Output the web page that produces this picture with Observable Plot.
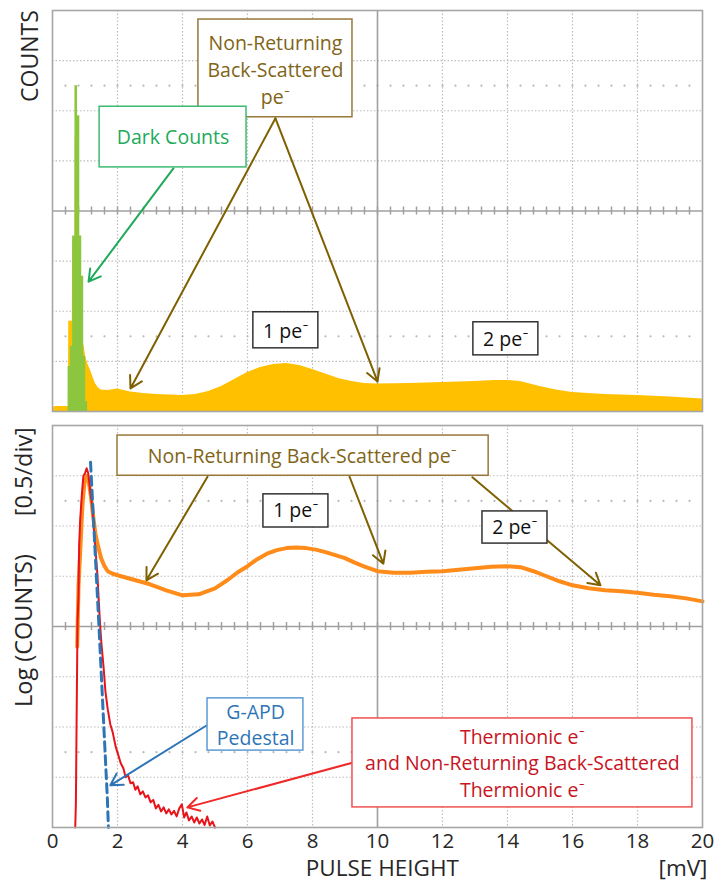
<!DOCTYPE html>
<html><head><meta charset="utf-8">
<script src="https://cdn.jsdelivr.net/npm/d3@7"></script>
<script src="https://cdn.jsdelivr.net/npm/@observablehq/plot@0.6"></script>
<style>
body{margin:0;background:#fff;}
#chart svg{display:block;overflow:visible;}
</style>
</head><body><div id="chart"></div>
<script>
// ---------- data ----------
// x in mV, y in screen divisions (8 divisions per panel)
const xTicks = [0,2,4,6,8,10,12,14,16,18,20];

// top panel: total spectrum (yellow) and dark counts (green)
const yellowX = [0.0,0.1,0.49,0.50,0.61,0.62,0.69,0.70,0.84,0.86,0.90,0.96,1.02,1.08,1.17,1.25,1.32,1.4,1.5,1.7,2.0,2.4,2.8,3.2,3.6,4.0,4.4,4.8,5.2,5.6,6.0,6.4,6.8,7.2,7.6,8.0,8.4,8.8,9.2,9.6,10.0,11.0,12.0,13.0,13.6,14.0,14.4,15.0,15.5,16.0,17.0,18.0,19.0,20.0];
const yellowY = [0.08,0.1,0.1,1.8,1.8,3.4,3.4,5.5,3.4,2.6,1.5,1.35,1.1,0.96,0.82,0.68,0.56,0.48,0.43,0.42,0.45,0.39,0.36,0.34,0.33,0.32,0.34,0.4,0.5,0.64,0.78,0.88,0.94,0.96,0.92,0.84,0.75,0.66,0.6,0.56,0.55,0.56,0.58,0.6,0.62,0.62,0.6,0.5,0.43,0.38,0.34,0.32,0.29,0.25];

const greenX = [0.46,0.48,0.55,0.62,0.69,0.77,0.84,0.90,0.96,1.02,1.08];
const greenY = [0,0.9,1.3,3.5,6.5,5.9,3.5,2.7,1.1,0.2,0];

// bottom panel: log spectra
const orangeX = [0.76,0.80,0.86,0.92,0.98,1.05,1.10,1.18,1.25,1.32,1.40,1.50,1.60,1.70,1.85,2.0,2.5,3.0,3.5,4.0,4.5,5.0,5.4,5.7,6.0,6.3,6.6,6.9,7.2,7.5,7.8,8.1,8.4,8.7,9.0,9.3,9.6,10.0,10.5,11.0,11.5,12.0,12.5,13.0,13.5,14.0,14.4,14.8,15.2,15.6,16.0,16.5,17.0,17.5,18.0,18.5,19.0,19.5,20.0];
const orangeY = [3.6,4.8,5.6,6.4,6.85,7.0,6.95,6.6,6.2,5.85,5.6,5.35,5.2,5.1,5.05,5.02,4.93,4.84,4.72,4.62,4.64,4.76,4.93,5.08,5.2,5.34,5.45,5.52,5.56,5.57,5.56,5.53,5.48,5.42,5.36,5.27,5.19,5.1,5.07,5.07,5.09,5.1,5.13,5.16,5.19,5.2,5.18,5.1,5.0,4.9,4.82,4.76,4.72,4.7,4.67,4.63,4.6,4.56,4.5];

const redX = [0.70,0.72,0.74,0.76,0.77,0.80,0.82,0.85,0.90,0.95,1.00,1.05,1.10,1.16,1.23,1.30,1.38,1.45,1.50,1.57,1.63,1.70,1.78,1.85,1.94,2.02,2.10,2.18,2.25,2.32,2.40,2.48,2.55,2.62,2.70,2.78,2.86,2.94,3.02,3.10,3.18,3.26,3.34,3.42,3.50,3.58,3.66,3.74,3.82,3.90,3.98,4.05,4.12,4.20,4.28,4.36,4.44,4.52,4.60,4.68,4.76,4.84,4.92,5.0];
const redY = [0,0.5,2.0,3.4,4.1,4.6,5.6,6.1,6.6,7.0,7.05,7.15,7.05,6.7,6.35,5.7,5.05,4.2,3.7,3.2,2.7,2.35,2.05,1.9,1.62,1.45,1.28,1.18,1.0,1.05,0.88,0.9,0.75,0.82,0.66,0.72,0.6,0.64,0.5,0.55,0.38,0.45,0.32,0.4,0.28,0.36,0.26,0.33,0.22,0.38,0.46,0.2,0.3,0.14,0.22,0.1,0.2,0.08,0.16,0.05,0.22,0.04,0.12,0];

const pedX = [1.17,1.43,1.58,1.69,1.72];
const pedY = [7.27,4.0,2.0,0.55,0];

// ---------- helpers ----------
const zip = (xs, ys) => xs.map((x, i) => ({x, y: ys[i]}));
const FONT = "Open Sans, Lato, sans-serif";
const OLIVE = "#7F6000", OLIVE_T = "#806417", GREEN = "#1EAA5A", BLUE = "#2E75B6", RED = "#F02828", RED_T = "#C8141E";
const AXIS_T = "#262626";
const minorX = d3.range(0.4, 20, 0.4);

function grid() {
  return [
    Plot.ruleX(xTicks.filter(d => d > 0 && d < 20 && d !== 10), {stroke: "#BDBDBD", strokeWidth: 1.2, strokeDasharray: "1.5 2"}),
    Plot.ruleY([1,2,3,5,6,7], {stroke: "#BDBDBD", strokeWidth: 1.2, strokeDasharray: "1.5 2"}),
    Plot.dot(minorX, {x: d => d, y: 1.5, r: 1.1, fill: "#B8B8B8", stroke: null}),
    Plot.dot(minorX, {x: d => d, y: 6.5, r: 1.1, fill: "#B8B8B8", stroke: null}),
    Plot.ruleX([10], {stroke: "#A0A0A0", strokeWidth: 1.6}),
    Plot.ruleY([4], {stroke: "#A0A0A0", strokeWidth: 1.6}),
    Plot.ruleX(minorX, {y1: 3.92, y2: 4.08, stroke: "#A0A0A0", strokeWidth: 1.5})
  ];
}

function boxes(list) {
  return Plot.rect(list, {x1: "x1", x2: "x2", y1: "y1", y2: "y2", fill: "white", stroke: "c", strokeWidth: 1.5});
}
function labels(list, size = 19.5) {
  return Plot.text(list, {x: "x", y: "y", text: "t", fill: "c", fontSize: size, fontFamily: FONT});
}
function arrows(list) {
  return Plot.arrow(list, {x1: "x1", y1: "y1", x2: "x2", y2: "y2", stroke: "c", strokeWidth: 2, headLength: 10});
}

// ---------- top panel ----------
const topBoxes = [
  {x1: 4.49, x2: 9.23, y1: 5.87, y2: 7.82, c: "#98783A"},
  {x1: 1.45, x2: 5.97, y1: 4.87, y2: 6.08, c: "#3DBB72"},
  {x1: 6.18, x2: 8.18, y1: 1.26, y2: 1.98, c: "#333"},
  {x1: 12.95, x2: 14.95, y1: 1.12, y2: 1.78, c: "#333"}
];
const topText = [
  {x: 6.86, y: 7.34, t: "Non-Returning", c: OLIVE_T},
  {x: 6.86, y: 6.80, t: "Back-Scattered", c: OLIVE_T},
  {x: 6.86, y: 6.26, t: "pe⁻", c: OLIVE_T},
  {x: 3.71, y: 5.47, t: "Dark Counts", c: GREEN},
  {x: 7.18, y: 1.60, t: "1 pe⁻", c: "#111"},
  {x: 13.95, y: 1.44, t: "2 pe⁻", c: "#111"}
];
const topArrows = [
  {x1: 6.86, y1: 5.85, x2: 2.4, y2: 0.46, c: OLIVE},
  {x1: 6.86, y1: 5.85, x2: 10.0, y2: 0.6, c: OLIVE},
  {x1: 3.72, y1: 4.85, x2: 1.11, y2: 2.59, c: GREEN}
];

const topPlot = Plot.plot({
  width: 715, height: 420,
  marginTop: 10, marginBottom: 9, marginLeft: 52, marginRight: 13,
  x: {domain: [0, 20], axis: null},
  y: {domain: [0, 8], axis: null},
  style: {fontFamily: FONT, background: "white"},
  marks: [
    ...grid(),
    Plot.areaY(zip(yellowX, yellowY), {x: "x", y: "y", fill: "#FFC000", curve: "linear"}),
    Plot.areaY(zip(greenX, greenY), {x: "x", y: "y", fill: "#8CC63F", curve: "step-after"}),
    Plot.frame({stroke: "#A6A6A6", strokeWidth: 1.6}),
    arrows(topArrows),
    boxes(topBoxes),
    labels(topText),
    Plot.text(["COUNTS"], {x: -0.68, y: 7.09, text: d => d, rotate: -90, fontSize: 23, fill: AXIS_T, fontFamily: FONT})
  ]
});

// ---------- bottom panel ----------
const botBoxes = [
  {x1: 2.0, x2: 13.42, y1: 7.0, y2: 7.8, c: "#98783A"},
  {x1: 6.49, x2: 8.49, y1: 5.97, y2: 6.63, c: "#333"},
  {x1: 13.23, x2: 15.23, y1: 5.65, y2: 6.29, c: "#333"},
  {x1: 4.77, x2: 7.72, y1: 1.53, y2: 2.57, c: "#5B9BD5"},
  {x1: 9.23, x2: 19.69, y1: 0.4, y2: 2.17, c: "#F05050"}
];
const botText = [
  {x: 7.69, y: 7.38, t: "Non-Returning Back-Scattered pe⁻", c: OLIVE_T},
  {x: 7.49, y: 6.30, t: "1 pe⁻", c: "#111"},
  {x: 14.23, y: 5.97, t: "2 pe⁻", c: "#111"},
  {x: 6.25, y: 2.29, t: "G-APD", c: BLUE},
  {x: 6.25, y: 1.77, t: "Pedestal", c: BLUE},
  {x: 14.46, y: 1.79, t: "Thermionic e⁻", c: RED_T},
  {x: 14.46, y: 1.27, t: "and Non-Returning Back-Scattered", c: RED_T},
  {x: 14.46, y: 0.74, t: "Thermionic e⁻", c: RED_T}
];
const botArrows = [
  {x1: 4.77, y1: 6.98, x2: 2.89, y2: 4.92, c: OLIVE},
  {x1: 9.14, y1: 6.98, x2: 10.18, y2: 5.25, c: OLIVE},
  {x1: 12.92, y1: 6.97, x2: 16.86, y2: 4.82, c: OLIVE},
  {x1: 4.74, y1: 2.03, x2: 1.78, y2: 0.84, c: BLUE},
  {x1: 9.23, y1: 1.29, x2: 4.15, y2: 0.4, c: RED}
];

const botPlot = Plot.plot({
  width: 715, height: 462,
  marginTop: 5, marginBottom: 55, marginLeft: 52, marginRight: 13,
  x: {domain: [0, 20], ticks: xTicks, tickSize: 0, tickPadding: 6, tickFormat: d => String(d), label: null},
  y: {domain: [0, 8], axis: null},
  style: {fontFamily: FONT, fontSize: "20.5px", color: AXIS_T, background: "white"},
  marks: [
    ...grid(),
    Plot.line(zip(orangeX, orangeY), {x: "x", y: "y", stroke: "#FF8C1A", strokeWidth: 4}),
    Plot.line(zip(redX, redY), {x: "x", y: "y", stroke: "#E8141B", strokeWidth: 2}),
    Plot.line(zip(pedX, pedY), {x: "x", y: "y", stroke: BLUE, strokeWidth: 3, strokeDasharray: "9 5"}),
    Plot.frame({stroke: "#A6A6A6", strokeWidth: 1.6}),
    arrows(botArrows),
    boxes(botBoxes),
    labels(botText),
    Plot.text(["[0.5/div]"], {x: -0.85, y: 7.08, text: d => d, rotate: -90, fontSize: 23.5, fill: AXIS_T, fontFamily: FONT}),
    Plot.text(["Log (COUNTS)"], {x: -0.85, y: 3.92, text: d => d, rotate: -90, fontSize: 23.5, fill: AXIS_T, fontFamily: FONT}),
    Plot.text(["PULSE HEIGHT"], {x: 10.15, y: -0.82, text: d => d, fontSize: 22.5, fill: AXIS_T, fontFamily: FONT}),
    Plot.text(["[mV]"], {x: 19.4, y: -0.82, text: d => d, fontSize: 22.5, fill: AXIS_T, fontFamily: FONT})
  ]
});

const chart = document.getElementById("chart");
chart.appendChild(topPlot);
chart.appendChild(botPlot);
</script>
</body></html>
